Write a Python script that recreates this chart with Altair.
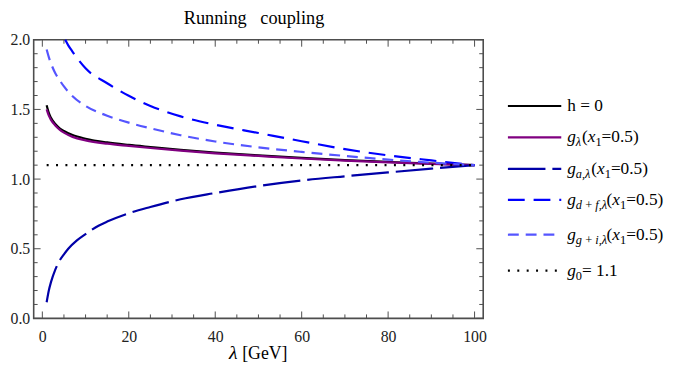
import altair as alt
import pandas as pd

# ---------------- data ----------------
lam_h0 = [1, 1.5, 2, 3, 4, 5, 7, 10, 15, 20, 25, 32, 40, 50, 60, 70, 80, 90, 100]
g_h0 = [1.53, 1.475, 1.44, 1.395, 1.365, 1.345, 1.316, 1.29, 1.263, 1.245, 1.23,
        1.21, 1.19, 1.17, 1.152, 1.136, 1.123, 1.111, 1.1]

lam_gl = [1, 1.5, 2, 3, 4, 5, 7, 10, 15, 20, 25, 32, 40, 50, 60, 70, 80, 90, 100]
g_gl = [1.50, 1.455, 1.425, 1.385, 1.355, 1.333, 1.303, 1.278, 1.254, 1.238, 1.223,
        1.204, 1.185, 1.166, 1.148, 1.133, 1.12, 1.109, 1.1]

lam_ga = [1, 1.5, 2, 3, 4, 5, 6, 8, 10, 13, 15, 20, 25, 32, 40, 50, 60, 70, 80, 90, 100]
g_ga = [0.116, 0.20, 0.26, 0.35, 0.415, 0.46, 0.50, 0.56, 0.605, 0.665, 0.695, 0.755,
        0.80, 0.855, 0.90, 0.95, 0.99, 1.02, 1.048, 1.075, 1.1]

lam_gdf = [5.3, 6, 7, 8.5, 10, 15, 20, 25, 32, 40, 50, 60, 70, 80, 90, 100]
g_gdf = [2.0, 1.96, 1.914, 1.85, 1.795, 1.688, 1.598, 1.525, 1.45, 1.39, 1.331,
         1.272, 1.215, 1.17, 1.134, 1.1]

lam_ggi = [1, 1.5, 2, 3, 4, 5, 7, 10, 15, 20, 25, 32, 40, 50, 60, 70, 80, 90, 100]
g_ggi = [1.93, 1.875, 1.83, 1.76, 1.71, 1.665, 1.595, 1.525, 1.455, 1.405, 1.365,
         1.315, 1.27, 1.228, 1.195, 1.166, 1.14, 1.118, 1.1]

lam_g0 = [1, 100]
g_g0 = [1.1, 1.1]

x_major = [0, 20, 40, 60, 80, 100]
x_minor = [v for v in range(5, 100, 5) if v % 20 != 0]
y_major = [0.0, 0.5, 1.0, 1.5, 2.0]
y_minor = [round(0.1 * k, 1) for k in range(1, 20) if k % 5 != 0]

# ---------------- layout ----------------
W, H = 455, 282
FRAME = "#4d4d4d"
SERIF = "Liberation Serif"

xs = alt.Scale(domain=[-2, 102], nice=False, zero=False)
ys = alt.Scale(domain=[0, 2], nice=False, zero=False)
xa = alt.Axis(values=x_major, ticks=False, domain=False, grid=False, title=None,
              labelFont=SERIF, labelFontSize=16, labelColor="#222", labelPadding=10,
              labelFlush=False)
ya = alt.Axis(values=y_major, ticks=False, domain=False, grid=False, title=None,
              format=".1f", labelFont=SERIF, labelFontSize=16, labelColor="#222",
              labelPadding=4)


def curve(lams, gs, color, dash=None, width=2.2):
    df = pd.DataFrame({"lam": lams, "g": gs})
    kw = dict(color=color, strokeWidth=width, interpolate="monotone")
    if dash:
        kw["strokeDash"] = dash
    return alt.Chart(df).mark_line(**kw).encode(
        x=alt.X("lam:Q", scale=xs, axis=xa),
        y=alt.Y("g:Q", scale=ys, axis=ya),
    )


layers = []


def xticks(vals, length):
    df = pd.DataFrame({"t": vals})
    b = alt.Chart(df).mark_rule(color=FRAME, strokeWidth=1).encode(
        x=alt.X("t:Q", scale=xs, axis=xa), y=alt.value(H), y2=alt.value(H - length))
    t = alt.Chart(df).mark_rule(color=FRAME, strokeWidth=1).encode(
        x=alt.X("t:Q", scale=xs, axis=xa), y=alt.value(0), y2=alt.value(length))
    return [b, t]


def yticks(vals, length):
    df = pd.DataFrame({"t": vals})
    l = alt.Chart(df).mark_rule(color=FRAME, strokeWidth=1).encode(
        y=alt.Y("t:Q", scale=ys, axis=ya), x=alt.value(0), x2=alt.value(length))
    r = alt.Chart(df).mark_rule(color=FRAME, strokeWidth=1).encode(
        y=alt.Y("t:Q", scale=ys, axis=ya), x=alt.value(W), x2=alt.value(W - length))
    return [l, r]


layers += xticks(x_major, 7) + xticks(x_minor, 4) + yticks(y_major, 7) + yticks(y_minor, 4)

NAVY, BLUE, LBLUE, PURPLE = "#0000A8", "#0000FF", "#5555FF", "#800080"
layers.append(curve(lam_h0, g_h0, "#000000"))
layers.append(curve(lam_gl, g_gl, PURPLE))
layers.append(curve(lam_ga, g_ga, NAVY, [38, 7]))
layers.append(curve(lam_gdf, g_gdf, BLUE, [17, 9]))
layers.append(curve(lam_ggi, g_ggi, LBLUE, [11, 7]))
layers.append(curve(lam_g0, g_g0, "#000000", [2, 7.5], 2.2))

one = pd.DataFrame({"a": [0]})


def txt(s, x, y, size, italic=False, align="left", baseline="alphabetic"):
    kw = dict(text=s, font=SERIF, fontSize=size, align=align, baseline=baseline,
              color="#000000")
    if italic:
        kw["fontStyle"] = "italic"
    return alt.Chart(one).mark_text(**kw).encode(x=alt.value(x), y=alt.value(y))


layers.append(txt("Running\u00a0\u00a0\u00a0coupling", 223, -16.3, 18.5, align="center"))
layers.append(txt("λ", 202, 323, 20, italic=True, align="center"))
layers.append(txt("[GeV]", 211, 323, 18))

IT = {"g": .5, "x": .444, "a": .5, "d": .5, "f": .278, "i": .278, ",": .25,
      "λ": .5, " ": .25, "\u2009": .2}
RM = {"(": .333, ")": .333, "=": .564, ".": .25, " ": .25, "h": .5, "+": .564,
      ",": .25, "\u2009": .2}


def wid(s, size, italic):
    tot = 0
    for ch in s:
        if ch.isdigit():
            tot += .5
        elif italic and ch in IT:
            tot += IT[ch]
        else:
            tot += RM.get(ch, .5)
    return tot * size


FS, SS = 17.5, 12.5
rows_y = [67, 98.7, 130.7, 162, 197.3, 233.7]
row_styles = [("#000000", None), (PURPLE, None), (NAVY, [38, 7]), (BLUE, [17, 9]),
              (LBLUE, [11, 7]), ("#000000", [2, 7.5])]
arg = [("(", "n"), ("x", "i"), ("1", "sn"), ("=0.5)", "n")]
row_text = [
    [("h = 0", "n")],
    [("g", "i"), ("λ", "si")] + arg,
    [("g", "i"), ("a,λ", "si")] + arg,
    [("g", "i"), ("d\u2009+\u2009f,λ", "si")] + arg,
    [("g", "i"), ("g\u2009+\u2009i,λ", "si")] + arg,
    [("g", "i"), ("0", "sn"), ("= 1.1", "n")],
]

for ry, (col, dash), segs in zip(rows_y, row_styles, row_text):
    kw = dict(color=col, strokeWidth=2.2)
    if dash:
        kw["strokeDash"] = dash
    layers.append(alt.Chart(one).mark_rule(**kw).encode(
        x=alt.value(480), x2=alt.value(534), y=alt.value(ry)))
    cx = 540
    for s, kind in segs:
        sub = kind.startswith("s")
        italic = kind.endswith("i")
        size = SS if sub else FS
        yy = ry + (9.3 if sub else 5.2)
        layers.append(txt(s, cx, yy, size, italic=italic))
        cx += wid(s, size, italic)

chart = alt.layer(*layers).properties(
    width=W, height=H,
    autosize=alt.AutoSizeParams(type="none"),
    padding={"left": 26, "top": 30, "right": 184, "bottom": 44},
).configure_view(stroke=FRAME, strokeWidth=1.6)

chart.save("out.html", embed_options={"renderer": "svg", "actions": False})
